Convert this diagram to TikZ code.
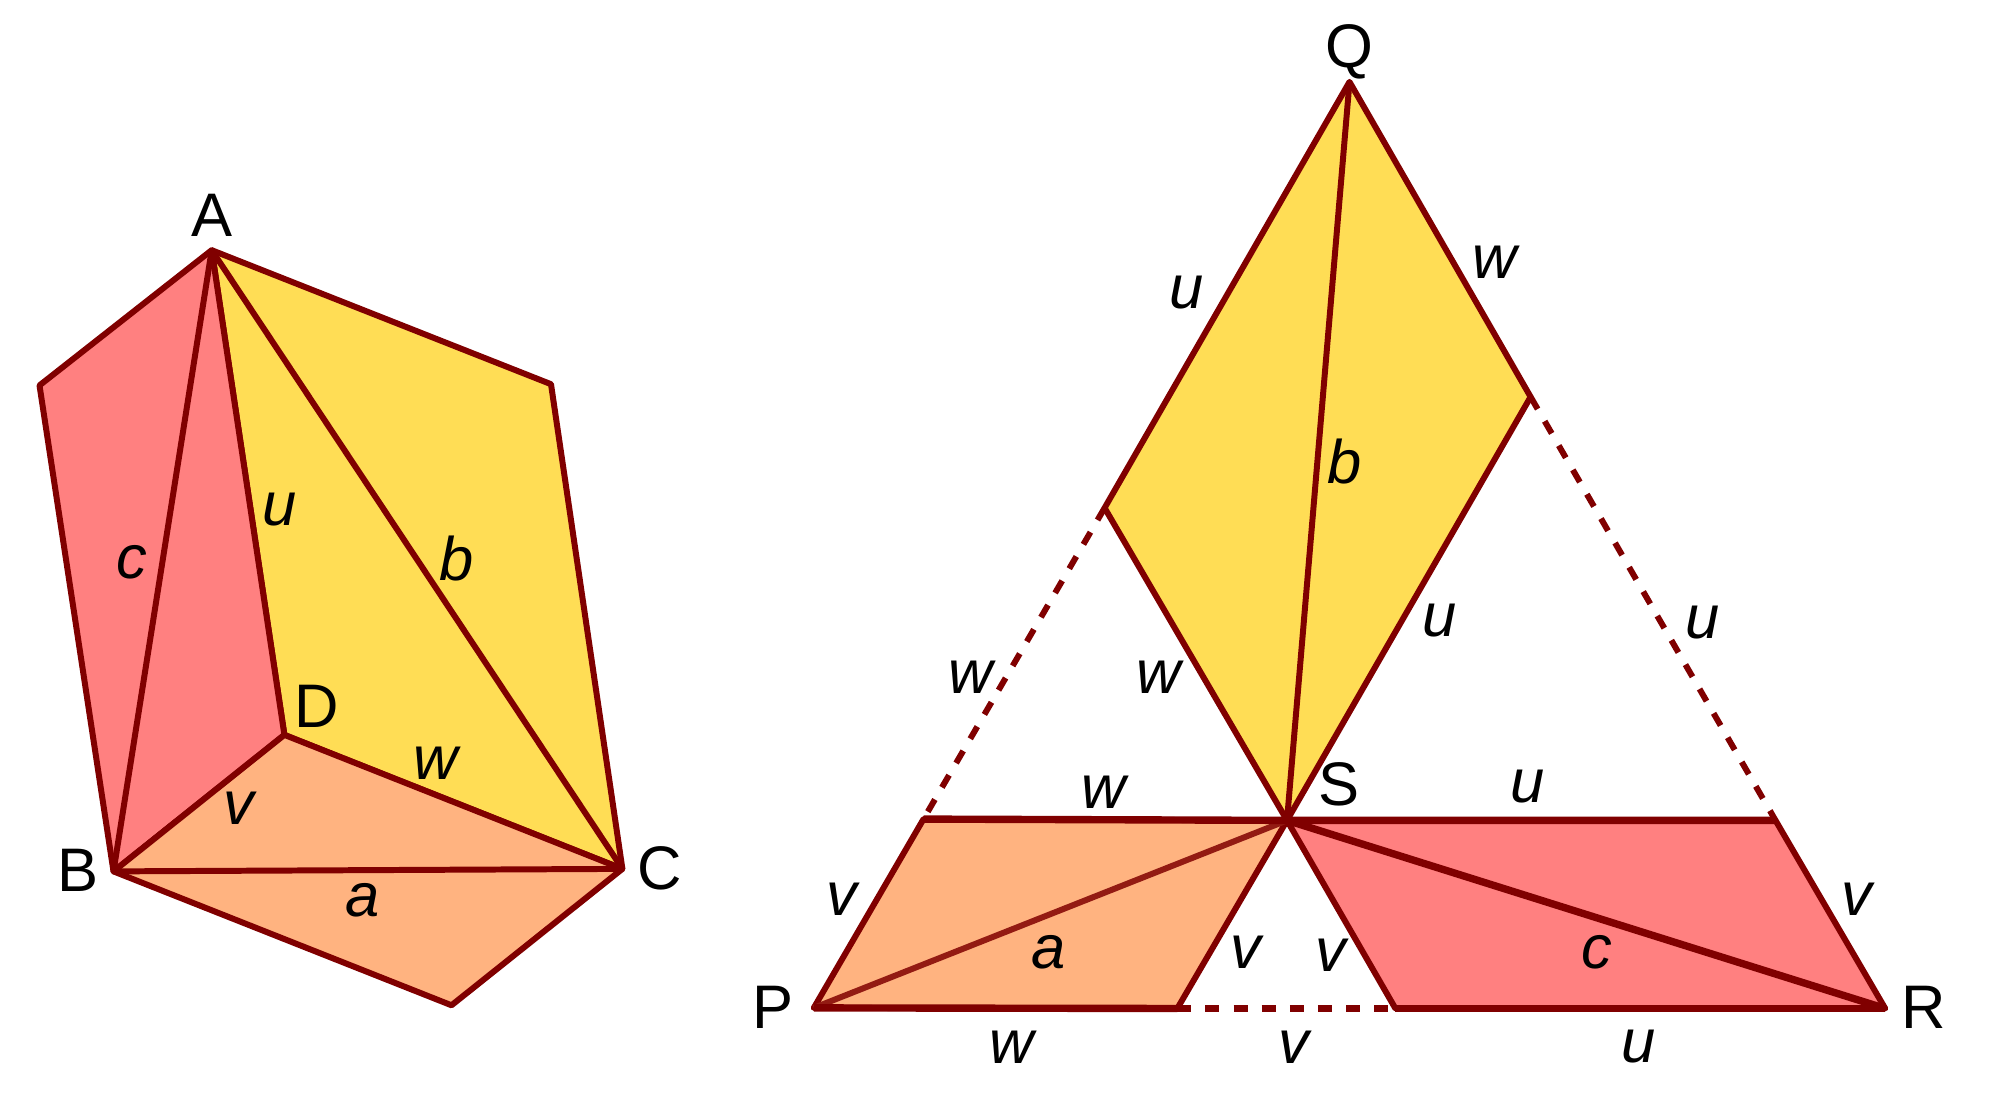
\documentclass[tikz,border=0pt]{standalone}
\usepackage{fontspec}
\setmainfont{Liberation Sans}
\definecolor{edgered}{HTML}{800000}
\definecolor{fillred}{HTML}{FF8080}
\definecolor{fillyellow}{HTML}{FFDD55}
\definecolor{fillorange}{HTML}{FFB380}
\tikzset{
	edge/.style = {draw = edgered, line width = 1.7pt, line join = round},
	heavyedge/.style = {draw = edgered, line width = 2.1pt},
	gap/.style = {draw = edgered, line width = 1.7pt, dash pattern = on 4pt off 4pt},
	vertex/.style = {inner sep = 0pt, yshift = 0.15mm, font = \fontsize{17.5}{20}\selectfont},
	side/.style = {inner sep = 0pt, yshift = -0.2mm, font = \fontsize{17.5}{20}\selectfont\itshape}
}
\begin{document}
\begin{tikzpicture}
	\useasboundingbox (0, 0.015) rectangle (20, 11.045);

	\coordinate (a) at (2.117, 8.543);
	\coordinate (b) at (1.135, 2.331);
	\coordinate (c) at (6.224, 2.356);
	\coordinate (d) at (2.844, 3.696);
	\coordinate (e) at (0.395, 7.191);
	\coordinate (f) at (5.51, 7.203);
	\coordinate (g) at (4.515, 0.992);

	\coordinate (q) at (13.495, 10.226);
	\coordinate (p) at (8.138, 0.966);
	\coordinate (r) at (18.852, 0.96);
	\coordinate (s) at (12.87, 2.841);
	\coordinate (t1) at (11.046, 5.966);
	\coordinate (t2) at (15.306, 7.076);
	\coordinate (t3) at (9.235, 2.854);
	\coordinate (t4) at (17.755, 2.841);
	\coordinate (t5) at (11.773, 0.96);
	\coordinate (t6) at (13.954, 0.96);

	\draw [edge, fill = fillyellow] (a) -- (f) -- (c) -- (d) -- cycle;
	\draw [edge, fill = fillred] (a) -- (e) -- (b) -- (d) -- cycle;
	\draw [edge, fill = fillorange] (b) -- (g) -- (c) -- (d) -- cycle;
	\draw [edge] (a) -- (b);
	\draw [edge] (a) -- (c);
	\draw [edge] (b) -- (c);

	\draw [gap] (t1) -- (t3);
	\draw [gap] (t2) -- (t4);
	\draw [gap, line width = 2.1pt] (t5) -- (t6);

	\draw [edge, fill = fillyellow] (q) -- (t2) -- (s) -- (t1) -- cycle;
	\draw [edge, fill = fillorange] (p) -- (t3) -- (s) -- (t5) -- cycle;
	\draw [edge, fill = fillred] (s) -- (t4) -- (r) -- (t6) -- cycle;
	\draw [edge] (q) -- (s);
	\draw [edge, draw = edgered!85!fillorange] (p) -- (s);
	\draw [heavyedge] (s) -- (r);
	\draw [heavyedge] (t3) -- (s) -- (t4);
	\draw [heavyedge] (p) -- (t5);
	\draw [heavyedge] (t6) -- (r);

	\node [vertex] (la) at (2.117, 8.874) {A};
	\node [vertex] (lb) at (0.778, 2.331) {B};
	\node [vertex] (lc) at (6.594, 2.345) {C};
	\node [vertex] (ld) at (3.163, 3.964) {D};
	\node [vertex] (lq) at (13.495, 10.508) {Q};
	\node [vertex] (lp) at (7.73, 0.954) {P};
	\node [vertex] (lr) at (19.235, 0.954) {R};
	\node [vertex] (ls) at (13.393, 3.185) {S};

	\node [side] (c1) at (1.314, 5.443) {c};
	\node [side] (u1) at (2.793, 5.966) {u};
	\node [side] (b1) at (4.566, 5.48) {b};
	\node [side] (w1) at (4.362, 3.428) {w};
	\node [side] (v1) at (2.385, 2.982) {v};
	\node [side] (a1) at (3.622, 2.063) {a};

	\node [side] (u2) at (11.862, 8.135) {u};
	\node [side] (w2) at (14.949, 8.441) {w};
	\node [side] (b2) at (13.444, 6.45) {b};
	\node [side] (u3) at (14.4, 4.855) {u};
	\node [side] (u4) at (17.028, 4.842) {u};
	\node [side] (w3) at (11.582, 4.295) {w};
	\node [side] (w4) at (9.707, 4.295) {w};
	\node [side] (w5) at (11.033, 3.147) {w};
	\node [side] (u5) at (15.28, 3.198) {u};
	\node [side] (v2) at (8.418, 2.076) {v};
	\node [side] (a2) at (10.485, 1.54) {a};
	\node [side] (v3) at (12.462, 1.54) {v};
	\node [side] (v4) at (13.304, 1.515) {v};
	\node [side] (c2) at (15.969, 1.54) {c};
	\node [side] (v5) at (18.571, 2.076) {v};
	\node [side] (w6) at (10.115, 0.596) {w};
	\node [side] (v6) at (12.934, 0.596) {v};
	\node [side] (u6) at (16.39, 0.596) {u};
\end{tikzpicture}
\end{document}
